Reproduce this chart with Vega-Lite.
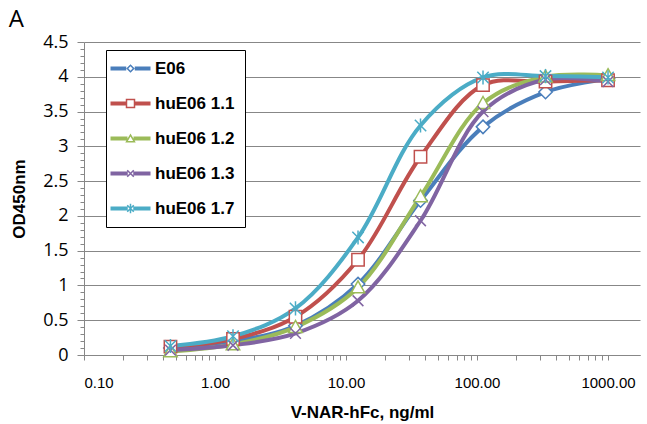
{
  "$schema": "https://vega.github.io/schema/vega-lite/v6.json",
  "width": 556,
  "height": 313,
  "autosize": "none",
  "padding": {"left": 84, "top": 42, "right": 7, "bottom": 69},
  "background": "white",
  "title": {"text": "A", "anchor": "start", "frame": "bounds", "fontSize": 24, "fontWeight": "normal", "font": "Open Sans", "color": "black", "offset": 1, "dx": -2},
  "config": {"view": {"stroke": null}},
  "data": {"values": [
    {"conc": 0.457, "od": 0.10, "series": "E06", "marker": "diamond"},
    {"conc": 1.372, "od": 0.20, "series": "E06", "marker": "diamond"},
    {"conc": 4.115, "od": 0.42, "series": "E06", "marker": "diamond"},
    {"conc": 12.35, "od": 1.02, "series": "E06", "marker": "diamond"},
    {"conc": 37.04, "od": 2.22, "series": "E06", "marker": "diamond"},
    {"conc": 111.1, "od": 3.28, "series": "E06", "marker": "diamond"},
    {"conc": 333.3, "od": 3.78, "series": "E06", "marker": "diamond"},
    {"conc": 1000, "od": 3.97, "series": "E06", "marker": "diamond"},
    {"conc": 0.457, "od": 0.12, "series": "huE06 1.1", "marker": "square"},
    {"conc": 1.372, "od": 0.23, "series": "huE06 1.1", "marker": "square"},
    {"conc": 4.115, "od": 0.55, "series": "huE06 1.1", "marker": "square"},
    {"conc": 12.35, "od": 1.37, "series": "huE06 1.1", "marker": "square"},
    {"conc": 37.04, "od": 2.85, "series": "huE06 1.1", "marker": "square"},
    {"conc": 111.1, "od": 3.88, "series": "huE06 1.1", "marker": "square"},
    {"conc": 333.3, "od": 3.93, "series": "huE06 1.1", "marker": "square"},
    {"conc": 1000, "od": 3.95, "series": "huE06 1.1", "marker": "square"},
    {"conc": 0.457, "od": 0.05, "series": "huE06 1.2", "marker": "triangle"},
    {"conc": 1.372, "od": 0.15, "series": "huE06 1.2", "marker": "triangle"},
    {"conc": 4.115, "od": 0.40, "series": "huE06 1.2", "marker": "triangle"},
    {"conc": 12.35, "od": 0.97, "series": "huE06 1.2", "marker": "triangle"},
    {"conc": 37.04, "od": 2.28, "series": "huE06 1.2", "marker": "triangle"},
    {"conc": 111.1, "od": 3.62, "series": "huE06 1.2", "marker": "triangle"},
    {"conc": 333.3, "od": 4.00, "series": "huE06 1.2", "marker": "triangle"},
    {"conc": 1000, "od": 4.02, "series": "huE06 1.2", "marker": "triangle"},
    {"conc": 0.457, "od": 0.07, "series": "huE06 1.3", "marker": "x"},
    {"conc": 1.372, "od": 0.14, "series": "huE06 1.3", "marker": "x"},
    {"conc": 4.115, "od": 0.31, "series": "huE06 1.3", "marker": "x"},
    {"conc": 12.35, "od": 0.78, "series": "huE06 1.3", "marker": "x"},
    {"conc": 37.04, "od": 1.93, "series": "huE06 1.3", "marker": "x"},
    {"conc": 111.1, "od": 3.50, "series": "huE06 1.3", "marker": "x"},
    {"conc": 333.3, "od": 3.96, "series": "huE06 1.3", "marker": "x"},
    {"conc": 1000, "od": 3.93, "series": "huE06 1.3", "marker": "x"},
    {"conc": 0.457, "od": 0.13, "series": "huE06 1.7", "marker": "star"},
    {"conc": 1.372, "od": 0.27, "series": "huE06 1.7", "marker": "star"},
    {"conc": 4.115, "od": 0.67, "series": "huE06 1.7", "marker": "star"},
    {"conc": 12.35, "od": 1.69, "series": "huE06 1.7", "marker": "star"},
    {"conc": 37.04, "od": 3.30, "series": "huE06 1.7", "marker": "star"},
    {"conc": 111.1, "od": 3.99, "series": "huE06 1.7", "marker": "star"},
    {"conc": 333.3, "od": 4.01, "series": "huE06 1.7", "marker": "star"},
    {"conc": 1000, "od": 3.99, "series": "huE06 1.7", "marker": "star"}
  ]},
  "encoding": {
    "x": {
      "field": "conc", "type": "quantitative",
      "scale": {"type": "log", "domain": [0.1, 1754], "nice": false},
      "axis": {
        "title": "V-NAR-hFc, ng/ml",
        "titleFont": "Liberation Sans", "titleFontSize": 17, "titleFontWeight": "bold", "titleColor": "black", "titlePadding": 14,
        "values": [0.1,0.2,0.3,0.4,0.5,0.6,0.7,0.8,0.9,1,2,3,4,5,6,7,8,9,10,20,30,40,50,60,70,80,90,100,200,300,400,500,600,700,800,900,1000],
        "labelExpr": "datum.value==0.1||datum.value==1||datum.value==10||datum.value==100||datum.value==1000 ? format(datum.value,'.2f') : ''",
        "labelOverlap": false,
        "labelFont": "Liberation Sans", "labelFontSize": 15, "labelColor": "black", "labelPadding": 15,
        "grid": false, "tickSize": 5, "tickColor": "#878787", "domainColor": "#878787"
      }
    },
    "y": {
      "field": "od", "type": "quantitative",
      "scale": {"domain": [0, 4.5], "nice": false}
    },
    "color": {
      "field": "series", "type": "nominal",
      "scale": {"domain": ["E06", "huE06 1.1", "huE06 1.2", "huE06 1.3", "huE06 1.7"], "range": ["#4A7EBB", "#C0504D", "#9BBB59", "#8064A2", "#4BACC6"]},
      "legend": {
        "title": null, "orient": "none", "legendX": 22, "legendY": 8,
        "strokeColor": "black", "fillColor": "white", "padding": 10,
        "labelFont": "Liberation Sans", "labelFontSize": 17, "labelFontWeight": "bold", "labelColor": "black",
        "rowPadding": 17, "symbolOffset": 6, "labelOffset": 16, "symbolSize": 140,
        "encode": {
          "symbols": {
            "update": {
              "shape": {"signal": "datum.value === 'E06' ? 'M-4,-0.4L-0.85,-0.4L-0.85,0.4L-4,0.4Z M0.85,-0.4L4,-0.4L4,0.4L0.85,0.4Z M0,-0.85L0.85,0L0,0.85L-0.85,0Z M0,-0.43L-0.43,0L0,0.43L0.43,0Z' : datum.value === 'huE06 1.1' ? 'M-4,-0.4L-0.95,-0.4L-0.95,0.4L-4,0.4Z M0.95,-0.4L4,-0.4L4,0.4L0.95,0.4Z M-0.95,-0.95L0.95,-0.95L0.95,0.95L-0.95,0.95Z M-0.65,-0.65L-0.65,0.65L0.65,0.65L0.65,-0.65Z' : datum.value === 'huE06 1.2' ? 'M-4,-0.4L-0.6,-0.4L-0.6,0.4L-4,0.4Z M0.6,-0.4L4,-0.4L4,0.4L0.6,0.4Z M0,-1L1.05,0.8L-1.05,0.8Z M0,-0.405L-0.528,0.5L0.528,0.5Z' : datum.value === 'huE06 1.3' ? 'M-4,-0.4L-0.55,-0.4L-0.55,0.4L-4,0.4Z M0.55,-0.4L4,-0.4L4,0.4L0.55,0.4Z M-0.544,-0.756L0.756,0.544L0.544,0.756L-0.756,-0.544Z M-0.544,0.756L-0.756,0.544L0.544,-0.756L0.756,-0.544Z' : 'M-4,-0.4L-0.55,-0.4L-0.55,0.4L-4,0.4Z M0.55,-0.4L4,-0.4L4,0.4L0.55,0.4Z M-0.544,-0.756L0.756,0.544L0.544,0.756L-0.756,-0.544Z M-0.544,0.756L-0.756,0.544L0.544,-0.756L0.756,-0.544Z M-0.15,-0.95L0.15,-0.95L0.15,0.95L-0.15,0.95Z'"},
              "fill": {"signal": "scale('color', datum.value)"},
              "fillOpacity": {"value": 1},
              "strokeWidth": {"value": 0},
              "size": {"value": 100},
              "opacity": {"value": 1}
            }
          }
        }
      }
    }
  },
  "layer": [
    {
      "mark": {"type": "line", "interpolate": "catmull-rom", "strokeWidth": 4},
      "encoding": {
        "y": {
          "field": "od", "type": "quantitative",
          "axis": {
            "title": "OD450nm", "titleFont": "Liberation Sans", "titleFontSize": 17, "titleFontWeight": "bold", "titleColor": "black", "titlePadding": 14,
            "values": [0, 0.5, 1, 1.5, 2, 2.5, 3, 3.5, 4, 4.5], "format": "~g",
            "labelFont": "Open Sans", "labelFontSize": 18, "labelColor": "black", "labelPadding": 9,
            "grid": true, "gridColor": "#878787", "gridWidth": 1,
            "tickSize": 7, "tickColor": "#878787", "domainColor": "#878787", "orient": "left"
          }
        }
      }
    },
    {
      "mark": {"type": "point", "filled": false, "fill": "white", "fillOpacity": 1, "opacity": 1, "strokeWidth": 1.5, "size": 180},
      "encoding": {
        "y": {
          "field": "od", "type": "quantitative",
          "axis": {
            "title": null, "labels": false, "grid": false, "domain": false,
            "values": [0.1,0.2,0.3,0.4,0.6,0.7,0.8,0.9,1.1,1.2,1.3,1.4,1.6,1.7,1.8,1.9,2.1,2.2,2.3,2.4,2.6,2.7,2.8,2.9,3.1,3.2,3.3,3.4,3.6,3.7,3.8,3.9,4.1,4.2,4.3,4.4],
            "tickSize": 4, "tickColor": "#878787", "orient": "left"
          }
        },
        "shape": {
          "field": "marker", "type": "nominal", "legend": null,
          "scale": {"domain": ["diamond", "square", "triangle", "x", "star"], "range": ["M0,-1L1,0L0,1L-1,0Z", "M-0.92,-0.92L0.92,-0.92L0.92,0.92L-0.92,0.92Z", "M0,-1L1,0.78L-1,0.78Z", "M-0.8,-0.8L0.8,0.8M-0.8,0.8L0.8,-0.8", "M-0.85,-0.85L0.85,0.85M-0.85,0.85L0.85,-0.85M0,-1.05L0,1.05"]}
        }
      }
    }
  ],
  "resolve": {"axis": {"y": "independent"}}
}
